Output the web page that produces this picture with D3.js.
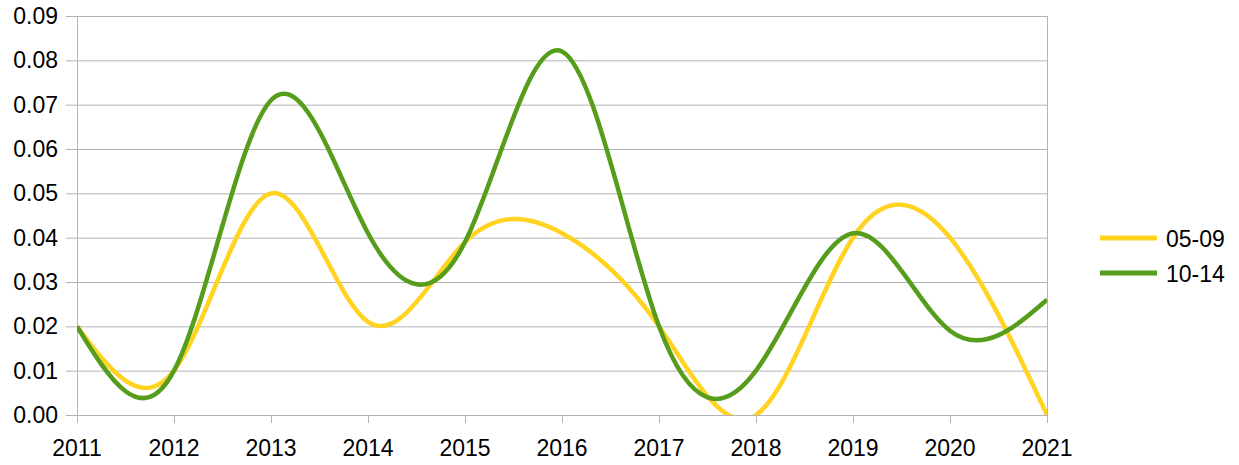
<!DOCTYPE html>
<html lang="en">
  <head>
    <meta charset="UTF-8" />
    <title>05-09 / 10-14</title>
    <style>
      body { margin: 0; background: #fff; }
      text { font-family: "Liberation Sans", Arial, sans-serif; fill: #000; }
    </style>
  </head>
  <body>
    <svg width="1239" height="465"></svg>
    <script src="https://cdn.jsdelivr.net/npm/d3@7/dist/d3.min.js"></script>
    <script>
      const years = [2011, 2012, 2013, 2014, 2015, 2016, 2017, 2018, 2019, 2020, 2021];
      const s0509 = [0.02, 0.01, 0.05, 0.021, 0.039, 0.041, 0.02, 0.0, 0.04, 0.04, 0.0];
      const s1014 = [0.02, 0.01, 0.071, 0.041, 0.039, 0.082, 0.02, 0.01, 0.041, 0.019, 0.026];
      const yTicks = [0, 0.01, 0.02, 0.03, 0.04, 0.05, 0.06, 0.07, 0.08, 0.09];
      const seriesNames = ["05-09", "10-14"];
      const colors = ["#ffd320", "#579d1c"];

      const plotL = 77, plotR = 1047, plotT = 16, plotB = 415;
      const svg = d3.select("svg");

      const x = d3.scaleLinear().domain([2011, 2021]).range([plotL, plotR]);
      const y = d3.scaleLinear().domain([0, 0.09]).range([plotB, plotT]);

      // grid
      svg.append("g")
        .selectAll("line")
        .data(yTicks)
        .join("line")
        .attr("x1", plotL - 11)
        .attr("x2", plotR)
        .attr("y1", d => y(d) + 0.5)
        .attr("y2", d => y(d) + 0.5)
        .attr("stroke", "#b3b3b3");

      // y labels
      svg.append("g")
        .selectAll("text")
        .data(yTicks)
        .join("text")
        .attr("x", 58)
        .attr("y", d => y(d) + 8)
        .attr("text-anchor", "end")
        .attr("font-size", 23)
        .text(d => d.toFixed(2));

      // vertical lines: axis, right border, x ticks
      svg.append("g")
        .selectAll("line")
        .data(years)
        .join("line")
        .attr("x1", d => x(d) + 0.5)
        .attr("x2", d => x(d) + 0.5)
        .attr("y1", plotB)
        .attr("y2", plotB + 8)
        .attr("stroke", "#b3b3b3");
      svg.append("line")
        .attr("x1", plotL + 0.5).attr("x2", plotL + 0.5)
        .attr("y1", plotT).attr("y2", plotB)
        .attr("stroke", "#b3b3b3");
      svg.append("line")
        .attr("x1", plotR + 0.5).attr("x2", plotR + 0.5)
        .attr("y1", plotT).attr("y2", plotB)
        .attr("stroke", "#b3b3b3");

      // x labels
      svg.append("g")
        .selectAll("text")
        .data(years)
        .join("text")
        .attr("x", d => x(d))
        .attr("y", 456)
        .attr("text-anchor", "middle")
        .attr("font-size", 23)
        .text(d => d);

      svg.append("clipPath").attr("id", "plot")
        .append("rect")
        .attr("x", plotL).attr("y", plotT)
        .attr("width", plotR - plotL).attr("height", plotB - plotT);

      const line = d3.line()
        .x((d, i) => x(years[i]))
        .y(d => y(d))
        .curve(d3.curveNatural);

      const lines = svg.append("g").attr("clip-path", "url(#plot)");
      [s0509, s1014].forEach((s, i) => {
        lines.append("path")
          .attr("d", line(s))
          .attr("fill", "none")
          .attr("stroke", colors[i])
          .attr("stroke-width", 4.5);
      });

      // legend
      const legend = svg.append("g");
      seriesNames.forEach((name, i) => {
        const ly = 238 + i * 35;
        legend.append("line")
          .attr("x1", 1100).attr("x2", 1157)
          .attr("y1", ly).attr("y2", ly)
          .attr("stroke", colors[i])
          .attr("stroke-width", 5);
        legend.append("text")
          .attr("x", 1166)
          .attr("y", ly + 9)
          .attr("font-size", 23)
          .text(name);
      });
    </script>
  </body>
</html>
